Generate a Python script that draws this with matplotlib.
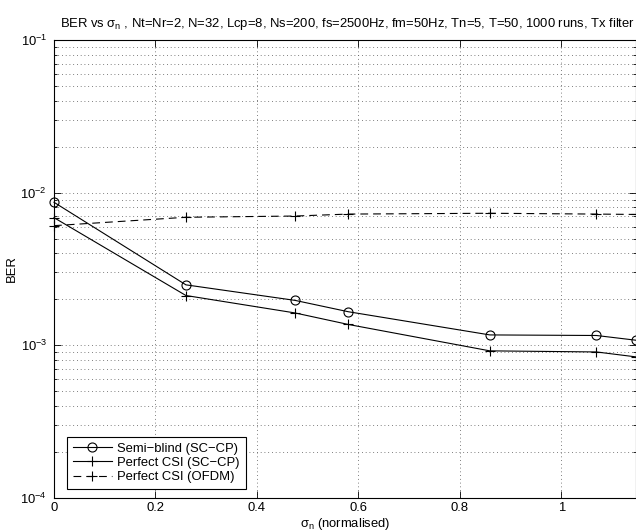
import matplotlib
matplotlib.use("Agg")
import matplotlib.pyplot as plt
from matplotlib.ticker import LogLocator, NullFormatter

plt.rcParams['font.family'] = ['Liberation Sans', 'DejaVu Sans']
plt.rcParams['mathtext.fontset'] = 'custom'
plt.rcParams['mathtext.rm'] = 'Liberation Sans'
plt.rcParams['mathtext.it'] = 'Liberation Sans'

# data
sigma_n = [0.0, 0.26, 0.475, 0.58, 0.859, 1.069, 1.147]
ber_semiblind = [8.65e-3, 2.49e-3, 1.97e-3, 1.66e-3, 1.17e-3, 1.16e-3, 1.08e-3]
ber_csi_sccp = [6.86e-3, 2.12e-3, 1.63e-3, 1.37e-3, 9.2e-4, 9.05e-4, 8.4e-4]
ber_csi_ofdm = [6.08e-3, 6.9e-3, 7.03e-3, 7.24e-3, 7.33e-3, 7.24e-3, 7.2e-3]

labels = ['Semi\u2212blind (SC\u2212CP)', 'Perfect CSI (SC\u2212CP)', 'Perfect CSI (OFDM)']
xticks = [0, 0.2, 0.4, 0.6, 0.8, 1]

fig = plt.figure(figsize=(6.36, 5.32), dpi=100)
ax = fig.add_axes([54 / 636, 34 / 532, 582 / 636, 458 / 532])

fs = 9.4
ax.semilogy(sigma_n, ber_semiblind, '-o', color='black', lw=0.8,
            markersize=6.5, markerfacecolor='none', markeredgewidth=0.8,
            label=labels[0], clip_on=False)
ax.semilogy(sigma_n, ber_csi_sccp, '-+', color='black', lw=0.8,
            markersize=7, markeredgewidth=0.8, label=labels[1], clip_on=False)
ax.semilogy(sigma_n, ber_csi_ofdm, '--+', color='black', lw=0.8,
            markersize=7, markeredgewidth=0.8, dashes=(7, 4.5),
            label=labels[2], clip_on=False)

ax.set_xlim(0, 1.147)
ax.set_ylim(1e-4, 1e-1)
ax.set_xticks(xticks)
ax.set_xticklabels(['0', '0.2', '0.4', '0.6', '0.8', '1'])
ax.yaxis.set_major_locator(LogLocator(base=10, numticks=10))
ax.yaxis.set_minor_locator(LogLocator(base=10, subs=range(2, 10), numticks=20))
ax.yaxis.set_minor_formatter(NullFormatter())

ax.grid(True, which='major', axis='both', color='#555555', linestyle=(0, (1, 3.5)), lw=0.6)
ax.grid(True, which='minor', axis='y', color='#555555', linestyle=(0, (1, 3.5)), lw=0.6)
ax.set_axisbelow(True)

ax.tick_params(which='both', direction='in', top=True, right=True, labelsize=fs, pad=5)
ax.tick_params(axis='x', pad=3)
ax.tick_params(which='major', length=5, width=0.6)
ax.tick_params(which='minor', length=2.5, width=0.6)
for s in ax.spines.values():
    s.set_linewidth(0.8)

ax.set_title('BER vs $\\sigma_n$ , Nt=Nr=2, N=32, Lcp=8, Ns=200, fs=2500Hz, fm=50Hz, Tn=5, T=50, 1000 runs, Tx filter',
             fontsize=fs, pad=9, x=0.505)
ax.set_xlabel('$\\sigma_n$ (normalised)', fontsize=fs, va='center')
ax.xaxis.set_label_coords(0.5, -26 / 458)
ax.set_ylabel('BER', fontsize=fs, va='center')
ax.yaxis.set_label_coords(-42 / 582, 0.5)

leg = ax.legend(loc='lower left', bbox_to_anchor=(13 / 582, 9 / 458), fontsize=fs,
                fancybox=False, edgecolor='black', framealpha=1, borderaxespad=0,
                handlelength=3, borderpad=0.45, labelspacing=0.15, handletextpad=0.4)
leg.get_frame().set_linewidth(0.8)

fig.savefig('out.png', dpi=100)
